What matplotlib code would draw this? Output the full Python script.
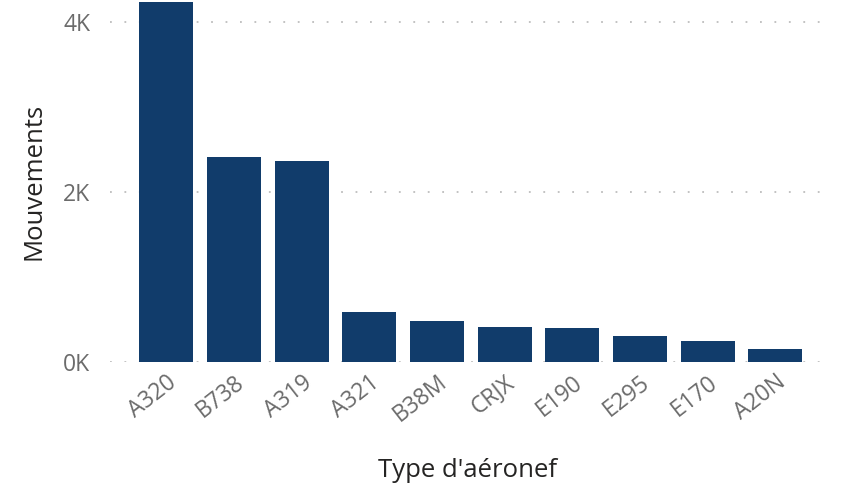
import matplotlib.pyplot as plt

# Données
types = ['A320', 'B738', 'A319', 'A321', 'B38M', 'CRJX', 'E190', 'E295', 'E170', 'A20N']
mouvements = [4235, 2410, 2365, 590, 480, 410, 400, 305, 245, 150]
yticks = [0, 2000, 4000]
ytick_labels = ['0K', '2K', '4K']

plt.rcParams['font.family'] = ['Open Sans', 'DejaVu Sans']

fig = plt.figure(figsize=(8.43, 4.86), dpi=100)
ax = fig.add_axes([0.130, 0.255, 0.849, 0.745])

ax.bar(range(len(types)), mouvements, width=0.8, color='#113C6B', zorder=2)

ax.set_xlim(-0.84, len(types) - 0.26)
ax.set_ylim(0, 4260)
ax.set_yticks(yticks)
ax.set_yticklabels(ytick_labels)
ax.set_xticks(range(len(types)))
ax.set_xticklabels(types, rotation=38, ha='right', rotation_mode='anchor')

ax.tick_params(axis='both', length=0, labelsize=16.5, labelcolor='#6b6b6b')
ax.tick_params(axis='y', pad=14)
ax.tick_params(axis='x', pad=6)

ax.yaxis.grid(True, linestyle=(0, (1, 7)), color='#bdbdbd', linewidth=1.3, zorder=0)
for s in ax.spines.values():
    s.set_visible(False)

ax.set_ylabel('Mouvements', fontsize=18.5, color='#252423', labelpad=12)
ax.set_xlabel("Type d'aéronef", fontsize=18.5, color='#252423', labelpad=22)

plt.savefig('out.png')
